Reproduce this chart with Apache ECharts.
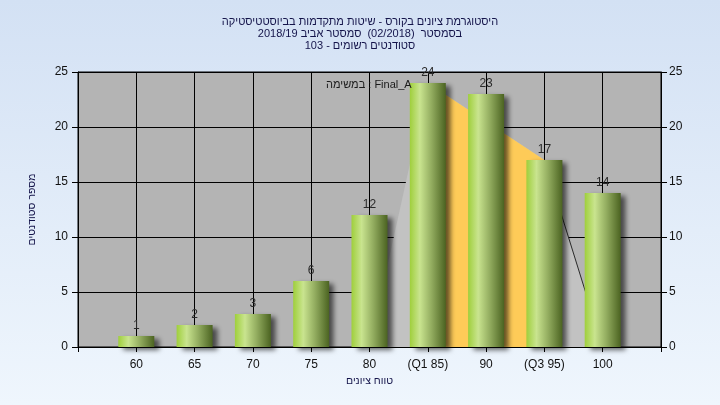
<!DOCTYPE html>
<html><head><meta charset="utf-8">
<script src="https://cdn.jsdelivr.net/npm/echarts@6/dist/echarts.min.js"></script>
<style>html,body{margin:0;padding:0;background:#e6eef8;}#c{width:720px;height:405px;}</style>
</head><body><div id="c"></div>
<script>
// ---- data ----
const titleLines = [
  'היסטוגרמת ציונים בקורס - שיטות מתקדמות בביוסטטיסטיקה',
  'בסמסטר  (02/2018)  סמסטר אביב 2018/19',
  'סטודנטים רשומים - 103'
];
const categories = ['60', '65', '70', '75', '80', '(Q1 85)', '90', '(Q3 95)', '100'];
const counts = [1, 2, 3, 6, 12, 24, 23, 17, 14];
const curveValues = [null, null, null, null, 0, 24, null, 17, 0];
const quartileBand = [null, null, null, null, null, 24, null, 17, null];
const tailLine = [null, null, null, null, null, null, null, 17, 0];
const yMin = 0, yMax = 25, yStep = 5;
const xAxisName = 'טווח ציונים';
const yAxisName = 'מספר סטודנטים';
const noteText = 'במשימה : Final_A';

// ---- helpers ----
const pad = a => [null, ...a, null];
const font = "'Liberation Sans', Arial, 'DejaVu Sans', sans-serif";

const chart = echarts.init(document.getElementById('c'), null, { renderer: 'canvas' });
const barGrad = new echarts.graphic.LinearGradient(0, 0, 1, 0, [
  { offset: 0, color: '#9fcf3c' },
  { offset: 0.28, color: '#c9e48f' },
  { offset: 0.6, color: '#93ad60' },
  { offset: 1, color: '#4b6321' }
]);
const axisCommon = {
  type: 'value', min: yMin, max: yMax, interval: yStep,
  axisLine: { show: true, lineStyle: { color: '#000', width: 1 } },
  axisTick: { show: true, length: 6, lineStyle: { color: '#000' } },
  axisLabel: { color: '#111', fontSize: 12, fontFamily: font }
};
chart.setOption({
  animation: false,
  backgroundColor: new echarts.graphic.LinearGradient(0, 0, 0, 1, [
    { offset: 0, color: '#d3e1f4' }, { offset: 1, color: '#eff6fd' }
  ]),
  textStyle: { fontFamily: font },
  title: {
    text: titleLines.join('\n'),
    left: 'center', top: 11,
    textStyle: { fontSize: 11, fontWeight: 'normal', color: '#14144a', lineHeight: 12, fontFamily: font }
  },
  grid: { left: 78, right: 59, top: 72, bottom: 58, show: true, backgroundColor: '#b4b4b4', borderColor: '#000', borderWidth: 1 },
  xAxis: {
    type: 'category', data: ['', ...categories, ''], boundaryGap: false,
    axisLine: { lineStyle: { color: '#000', width: 1 } },
    axisTick: { length: 5, interval: 0, lineStyle: { color: '#000' } },
    axisLabel: { color: '#111', fontSize: 12, margin: 12, interval: 0, fontFamily: font },
    splitLine: { show: true, interval: 0, lineStyle: { color: '#000', width: 1 } },
    name: xAxisName, nameLocation: 'middle', nameGap: 28,
    nameTextStyle: { color: '#14144a', fontSize: 10.5, fontFamily: font }
  },
  yAxis: [
    Object.assign({}, axisCommon, {
      position: 'left',
      axisLabel: Object.assign({}, axisCommon.axisLabel, { margin: 10 }),
      splitLine: { show: true, lineStyle: { color: '#000', width: 1 } },
      name: yAxisName, nameLocation: 'middle', nameRotate: 90, nameGap: 40,
      nameTextStyle: { color: '#14144a', fontSize: 10.5, fontFamily: font }
    }),
    Object.assign({}, axisCommon, {
      position: 'right',
      axisLabel: Object.assign({}, axisCommon.axisLabel, { margin: 8 }),
      splitLine: { show: false }
    })
  ],
  graphic: [{
    type: 'text', left: 326, top: 79, z: 10,
    style: { text: noteText, font: '11px ' + font, fill: '#1a1a1a' }
  }],
  series: [
    {
      type: 'line', data: pad(curveValues), connectNulls: true, symbol: 'none', z: 1,
      lineStyle: { width: 0 }, areaStyle: { color: '#c2c2c2', opacity: 1 }, silent: true
    },
    {
      type: 'line', data: pad(quartileBand), connectNulls: true, symbol: 'none', z: 2,
      lineStyle: { width: 0 }, areaStyle: { color: '#fecb58', opacity: 1 }, silent: true
    },
    {
      type: 'line', data: pad(tailLine), symbol: 'none', z: 2,
      lineStyle: { width: 1, color: '#2a2a2a' }, silent: true
    },
    {
      type: 'bar', data: pad(counts), barWidth: 36, z: 3,
      itemStyle: { color: barGrad, shadowColor: 'rgba(0,0,0,0.6)', shadowBlur: 5, shadowOffsetX: 5, shadowOffsetY: 3 },
      label: { show: true, position: 'top', distance: 4, color: '#2a2a2a', fontSize: 12, fontFamily: font }
    }
  ]
});
</script>
</body></html>
